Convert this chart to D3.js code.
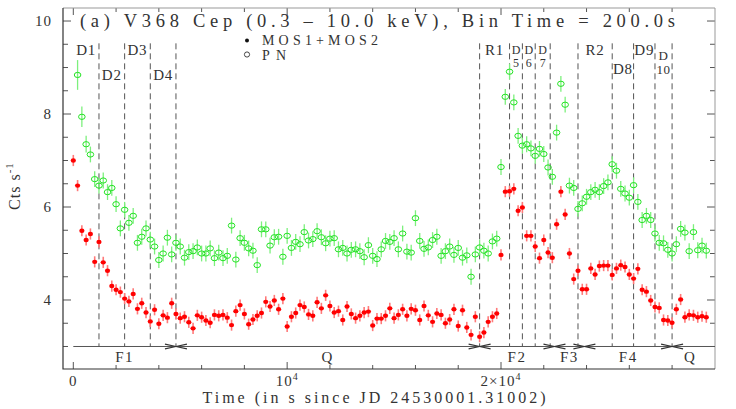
<!DOCTYPE html>
<html><head><meta charset="utf-8">
<script src="https://cdn.jsdelivr.net/npm/d3@7"></script>
<style>
html,body{margin:0;padding:0;background:#fff;}
svg{display:block;}
text{font-family:"Liberation Serif","DejaVu Serif",serif;fill:#333;}
</style>
</head><body>
<svg id="c" width="736" height="409"></svg>
<script>
// ---------------- data ----------------
const binTime = 200;               // s
const mosStart = 0;                // first MOS bin (s)
const pnStart = 200;               // first PN bin (s)
const mosRate = [
 7.00,6.46,5.49,5.29,5.42,4.82,5.25,4.81,4.63,4.30,4.22,4.17,4.03,3.97,4.13,3.81,3.93,3.73,3.54,3.79,
 3.49,3.67,3.62,3.93,3.70,3.61,3.64,3.52,3.39,3.67,3.63,3.56,3.51,3.68,3.66,3.68,3.62,3.46,
 3.76,3.89,3.70,3.48,3.58,3.66,3.72,3.96,3.86,3.99,3.80,4.03,3.43,3.64,3.72,3.89,3.85,3.69,3.66,3.95,
 3.82,4.10,3.87,3.73,3.76,3.57,3.86,3.70,3.61,3.66,3.73,3.75,3.45,3.60,3.60,3.66,3.82,
 3.61,3.68,3.80,3.66,3.81,3.78,3.57,3.87,3.67,3.53,3.71,3.68,3.50,3.58,3.80,3.44,3.78,3.41,3.25,3.64,
 3.21,3.30,3.53,3.64,3.71,
 4.97,6.33,6.34,6.39,5.92,5.99,5.38,5.38,5.15,4.90,5.29,5.02,4.91,5.63,6.33,5.84,5.00,4.45,4.63,4.23,
 4.23,4.68,4.55,4.73,4.74,4.74,4.54,4.68,4.75,4.71,4.55,4.46,4.67,4.22,4.18,3.99,3.85,3.83,3.57,3.56,
 3.51,3.80,4.01,3.63,3.68,3.67,3.63,3.65,3.63
];
const pnRate = [
 8.84,7.94,7.35,7.13,6.60,6.46,6.57,6.32,6.41,6.06,5.54,5.94,5.66,5.81,5.23,5.36,5.54,5.30,5.15,4.86,
 5.00,5.34,4.98,5.23,5.15,4.91,5.03,5.05,5.13,5.00,5.00,5.11,4.90,5.02,4.90,4.95,5.60,
 4.87,5.33,5.23,5.11,5.06,4.75,5.52,5.52,5.17,5.35,5.36,4.93,5.38,5.12,5.25,5.20,5.46,5.28,5.31,5.48,
 5.35,5.22,5.32,5.33,5.09,5.12,5.00,5.08,5.09,5.05,4.92,5.18,4.95,4.88,5.09,5.27,5.25,
 5.33,5.09,5.43,5.04,5.02,5.76,5.27,5.10,5.13,5.29,5.36,4.95,5.05,5.15,4.97,5.12,4.91,4.96,4.50,4.98,
 5.13,5.06,5.00,5.26,5.32,
 6.86,8.37,8.91,8.25,7.53,7.32,7.35,7.26,7.10,7.25,7.14,6.85,6.65,7.60,8.65,8.20,6.46,6.41,5.96,6.08,
 6.22,6.32,6.37,6.32,6.45,6.53,6.92,6.78,6.39,6.29,6.20,6.47,6.11,5.72,5.81,5.72,5.43,5.23,5.22,5.08,
 5.00,5.20,5.53,5.45,5.05,5.46,5.07,5.17,5.06
];
const mosErr = 0.12;
const pnErr = 0.17;
const pnErrEarly = [0.32, 0.22, 0.18];

const yTickValues = [4, 6, 8, 10];
const xTickValues = [0, 10000, 20000];
const divisionTimes = [1200, 2400, 3600, 4800, 19000, 20400, 21000, 21600, 22300, 23600, 25200, 26200, 27200, 28000];
const segmentNames = ["D1","D2","D3","D4","R1","D5","D6","D7","R2","D8","D9","D10"];
const segmentStart = [0, 1200, 2400, 3600, 19000, 20400, 21000, 21600, 23600, 25200, 26200, 27200];
const segmentEnd   = [1200, 2400, 3600, 4800, 20400, 21000, 21600, 22300, 25200, 26200, 27200, 28000];
const phaseNames  = ["F1", "Q", "F2", "F3", "F4", "Q"];
const phaseBounds = [0, 4800, 19000, 22500, 23900, 28000, 30000];

// ---------------- layout ----------------
const L = 63, R = 715, T = 8, B = 369;
const svg = d3.select("#c");
const x = d3.scaleLinear().domain([-482, 30007]).range([L, R]);
const y = d3.scaleLinear().domain([2.516, 10.28]).range([B, T]);

// segment label layout: [lines, first baseline, line step, font size, letter spacing]
const segLayout = {
  D1:[["D1"],55,0,15,0.8], D2:[["D2"],80,0,15,0.8], D3:[["D3"],55,0,15,0.8], D4:[["D4"],80,0,15,0.8],
  R1:[["R1"],55,0,15,0.8], D5:[["D","5"],54,12.5,12,0], D6:[["D","6"],54,12.5,12,0], D7:[["D","7"],54,12.5,12,0],
  R2:[["R2"],55,0,15,0.8], D8:[["D8"],74,0,15,0.8], D9:[["D9"],55,0,15,0.8], D10:[["D","10"],60,14,13,0.5]
};

// ticks (inside)
const tk = svg.append("g").attr("stroke", "#555").attr("stroke-width", 1);
d3.range(3, 10.01, 0.5).forEach(v => {
  const len = yTickValues.includes(v) ? 8 : 5;
  tk.append("line").attr("x1", L).attr("x2", L + len).attr("y1", y(v)).attr("y2", y(v));
  tk.append("line").attr("x1", R).attr("x2", R - len).attr("y1", y(v)).attr("y2", y(v));
});
d3.range(0, 29000, 2000).forEach(t => {
  const len = xTickValues.includes(t) ? 7 : 4;
  tk.append("line").attr("x1", x(t)).attr("x2", x(t)).attr("y1", B).attr("y2", B - len);
  tk.append("line").attr("x1", x(t)).attr("x2", x(t)).attr("y1", T).attr("y2", T + len);
});

// frame
svg.append("path").attr("d", `M${L},${T}H${R}V${B}`).attr("fill", "none").attr("stroke", "#999").attr("stroke-width", 1);
svg.append("path").attr("d", `M${L},${T}V${B}H${R}`).attr("fill", "none").attr("stroke", "#333").attr("stroke-width", 1.2);

// y tick labels
svg.append("g").selectAll("text").data(yTickValues).join("text")
  .attr("x", 52).attr("y", d => y(d) + 5).attr("text-anchor", "end")
  .attr("font-size", 15).attr("letter-spacing", 1).text(d => d);

// x tick labels
const xl = svg.append("g").attr("font-size", 15);
xTickValues.forEach(t => {
  const tx = xl.append("text").attr("x", x(t)).attr("y", 386).attr("text-anchor", "middle").attr("letter-spacing", 1);
  if (t === 0) { tx.text("0"); return; }
  const m = t / 10000;
  tx.append("tspan").text((m === 1 ? "" : m + "×") + "10");
  tx.append("tspan").attr("font-size", 10).attr("dy", -6).text("4");
});

// axis titles
svg.append("text").attr("x", 374).attr("y", 403).attr("text-anchor", "middle")
  .attr("font-size", 16).attr("textLength", 343).attr("lengthAdjust", "spacing")
  .text("Time (in s since JD 24530001.31002)");
const yl = svg.append("text").attr("transform", "translate(20,186) rotate(-90)")
  .attr("text-anchor", "middle").attr("font-size", 16).attr("letter-spacing", 1);
yl.append("tspan").text("Cts s");
yl.append("tspan").attr("font-size", 11).attr("dy", -7).text("-1");

// title
svg.append("text").attr("x", 80).attr("y", 27).attr("font-size", 18.5)
  .attr("textLength", 595).attr("lengthAdjust", "spacing")
  .text("(a) V368 Cep (0.3 – 10.0 keV), Bin Time = 200.0s");

// legend
svg.append("circle").attr("cx", 247).attr("cy", 40.5).attr("r", 2).attr("fill", "#111");
svg.append("circle").attr("cx", 247).attr("cy", 54.5).attr("r", 2.6).attr("fill", "none").attr("stroke", "#333").attr("stroke-width", 0.9);
svg.append("text").attr("x", 262).attr("y", 45).attr("font-size", 14).attr("textLength", 116).attr("lengthAdjust", "spacing").text("MOS1+MOS2");
svg.append("text").attr("x", 262).attr("y", 60).attr("font-size", 14).attr("textLength", 24).attr("lengthAdjust", "spacing").text("PN");

// dashed division lines
svg.append("g").selectAll("line").data(divisionTimes).join("line")
  .attr("x1", d => x(d)).attr("x2", d => x(d)).attr("y1", y(9.52)).attr("y2", y(3.0))
  .attr("stroke", "#555").attr("stroke-width", 1).attr("stroke-dasharray", "6,4");

// segment labels (stacked labels as one text with tspans)
segmentNames.forEach((n, i) => {
  const cx = (x(segmentStart[i]) + x(segmentEnd[i])) / 2;
  const [lines, bl, step, fs, ls] = segLayout[n];
  const t = svg.append("text").attr("text-anchor", "middle").attr("font-size", fs).attr("letter-spacing", ls);
  lines.forEach((s, j) => {
    t.append("tspan").attr("x", cx).attr("y", bl + j * step).text(s);
  });
});

// phase line and arrows
const py = y(3.0);
svg.append("line").attr("x1", x(0)).attr("x2", R).attr("y1", py).attr("y2", py).attr("stroke", "#555").attr("stroke-width", 1);
const arr = svg.append("g").attr("stroke", "#333").attr("stroke-width", 1.2).attr("fill", "none");
phaseBounds.slice(1, -1).forEach(b => {
  const bx = x(b);
  arr.append("path").attr("d", `M${bx-11},${py-2.4}L${bx},${py}L${bx-11},${py+2.4}`);
  arr.append("path").attr("d", `M${bx+11},${py-2.4}L${bx},${py}L${bx+11},${py+2.4}`);
});
phaseNames.forEach((n, i) => {
  const cx = (x(phaseBounds[i]) + x(Math.min(phaseBounds[i+1], 29700))) / 2;
  svg.append("text").attr("x", cx).attr("y", 362).attr("text-anchor", "middle")
    .attr("font-size", 15).attr("letter-spacing", 1.5).text(n);
});

// data
const mos = mosRate.map((v, i) => ({ t: mosStart + i * binTime, v, e: mosErr }));
const pn = pnRate.map((v, i) => ({ t: pnStart + i * binTime, v, e: i < pnErrEarly.length ? pnErrEarly[i] : pnErr }));

const gp = svg.append("g");
gp.selectAll("line.pe").data(pn).join("line").attr("class", "pe")
  .attr("x1", d => x(d.t)).attr("x2", d => x(d.t)).attr("y1", d => y(d.v - d.e)).attr("y2", d => y(d.v + d.e))
  .attr("stroke", "#7df07d").attr("stroke-width", 1.3);
gp.selectAll("ellipse").data(pn).join("ellipse")
  .attr("cx", d => x(d.t)).attr("cy", d => y(d.v)).attr("rx", 3.3).attr("ry", 2.6)
  .attr("fill", "none").attr("stroke", "#22e322").attr("stroke-width", 1);

const gm = svg.append("g");
gm.selectAll("line.me").data(mos).join("line").attr("class", "me")
  .attr("x1", d => x(d.t)).attr("x2", d => x(d.t)).attr("y1", d => y(d.v - d.e)).attr("y2", d => y(d.v + d.e))
  .attr("stroke", "#ff7a7a").attr("stroke-width", 1.6);
gm.selectAll("ellipse").data(mos).join("ellipse")
  .attr("cx", d => x(d.t)).attr("cy", d => y(d.v)).attr("rx", 2.6).attr("ry", 2.2)
  .attr("fill", "#ff0000");
</script>
</body></html>
